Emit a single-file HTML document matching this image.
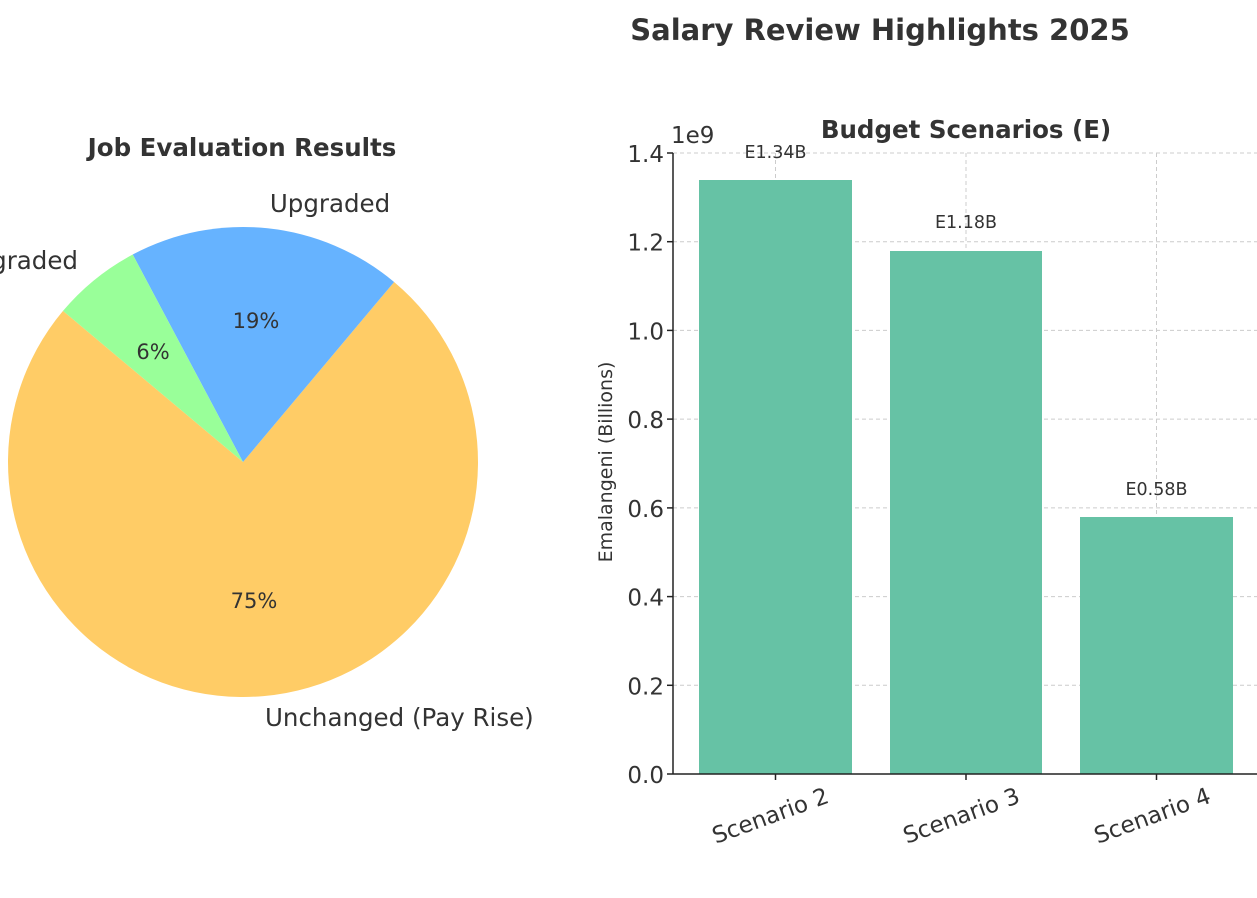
<!DOCTYPE html>
<html><head><meta charset="utf-8"><style>
html,body{margin:0;padding:0;background:#fff;width:1257px;height:898px;overflow:hidden}
text{font-family:"DejaVu Sans","Liberation Sans",sans-serif;fill:#333}
</style></head><body>
<svg width="1257" height="898" viewBox="0 0 1257 898" xmlns="http://www.w3.org/2000/svg">
<text x="880" y="40" font-size="29" font-weight="bold" text-anchor="middle">Salary Review Highlights 2025</text>
<!-- Pie -->
<text x="242" y="156" font-size="24.5" font-weight="bold" text-anchor="middle">Job Evaluation Results</text>
<path d="M243,462 L63,310.9 A235,235 0 1,0 394.1,282 Z" fill="#ffcc66"/>
<path d="M243,462 L394.1,282 A235,235 0 0,0 132.7,254.5 Z" fill="#66b3ff"/>
<path d="M243,462 L132.7,254.5 A235,235 0 0,0 63,310.9 Z" fill="#99ff99"/>
<text x="330" y="212" font-size="24.5" text-anchor="middle">Upgraded</text>
<text x="78" y="269" font-size="24.5" text-anchor="end">Downgraded</text>
<text x="265" y="726" font-size="24.5">Unchanged (Pay Rise)</text>
<text x="256" y="328" font-size="21" text-anchor="middle">19%</text>
<text x="153" y="359" font-size="21" text-anchor="middle">6%</text>
<text x="254" y="608" font-size="21" text-anchor="middle">75%</text>
<!-- Bar -->
<text x="966" y="138" font-size="24.5" font-weight="bold" text-anchor="middle">Budget Scenarios (E)</text>
<g stroke="#ccc" stroke-width="1" stroke-dasharray="4,3">
<line x1="673" x2="1257" y1="153" y2="153"/>
<line x1="673" x2="1257" y1="241.7" y2="241.7"/>
<line x1="673" x2="1257" y1="330.4" y2="330.4"/>
<line x1="673" x2="1257" y1="419.1" y2="419.1"/>
<line x1="673" x2="1257" y1="507.9" y2="507.9"/>
<line x1="673" x2="1257" y1="596.6" y2="596.6"/>
<line x1="673" x2="1257" y1="685.3" y2="685.3"/>
<line x1="775.5" x2="775.5" y1="153" y2="774"/>
<line x1="966" x2="966" y1="153" y2="774"/>
<line x1="1156.5" x2="1156.5" y1="153" y2="774"/>
</g>
<rect x="699" y="180" width="153" height="594" fill="#66c2a5"/>
<rect x="890" y="251" width="152" height="523" fill="#66c2a5"/>
<rect x="1080" y="517" width="153" height="257" fill="#66c2a5"/>
<line x1="673" y1="153" x2="673" y2="774" stroke="#222" stroke-width="1.5"/>
<line x1="673" y1="774" x2="1257" y2="774" stroke="#222" stroke-width="1.5"/>
<g stroke="#222" stroke-width="1.5">
<line x1="667" x2="673" y1="153" y2="153"/><line x1="667" x2="673" y1="241.7" y2="241.7"/>
<line x1="667" x2="673" y1="330.4" y2="330.4"/><line x1="667" x2="673" y1="419.1" y2="419.1"/>
<line x1="667" x2="673" y1="507.9" y2="507.9"/><line x1="667" x2="673" y1="596.6" y2="596.6"/>
<line x1="667" x2="673" y1="685.3" y2="685.3"/><line x1="667" x2="673" y1="774" y2="774"/>
<line x1="775.5" x2="775.5" y1="774" y2="780"/><line x1="966" x2="966" y1="774" y2="780"/><line x1="1156.5" x2="1156.5" y1="774" y2="780"/>
</g>
<g font-size="23" text-anchor="end">
<text x="664" y="162">1.4</text><text x="664" y="250.7">1.2</text><text x="664" y="339.4">1.0</text>
<text x="664" y="428.1">0.8</text><text x="664" y="516.9">0.6</text><text x="664" y="605.6">0.4</text>
<text x="664" y="694.3">0.2</text><text x="664" y="783">0.0</text>
</g>
<text x="671" y="143" font-size="23">1e9</text>
<g font-size="17.5" text-anchor="middle">
<text x="775.5" y="158">E1.34B</text><text x="966" y="228">E1.18B</text><text x="1156.5" y="495">E0.58B</text>
</g>
<text transform="translate(612,462) rotate(-90)" font-size="19" text-anchor="middle">Emalangeni (Billions)</text>
<g font-size="23" text-anchor="middle">
<text transform="translate(773,823) rotate(-20)">Scenario 2</text>
<text transform="translate(964,823) rotate(-20)">Scenario 3</text>
<text transform="translate(1155,823) rotate(-20)">Scenario 4</text>
</g>
</svg>
</body></html>
